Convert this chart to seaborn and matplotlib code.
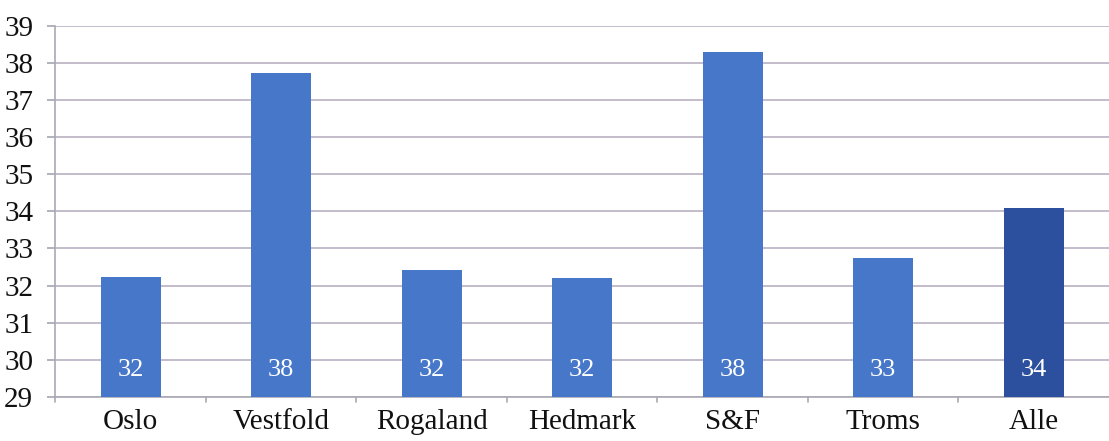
import numpy as np
import pandas as pd
import seaborn as sns
import matplotlib.pyplot as plt

regions = ['Oslo', 'Vestfold', 'Rogaland', 'Hedmark', 'S&F', 'Troms', 'Alle']
values = [32.24, 37.73, 32.42, 32.2, 38.28, 32.75, 34.08]
labels = ['32', '38', '32', '32', '38', '33', '34']

df = pd.DataFrame({'region': regions, 'value': values})

sns.set_theme(style='white')
plt.rcParams['font.family'] = ['Liberation Serif', 'DejaVu Serif']

fig = plt.figure(figsize=(11.09, 4.41), dpi=100)
ax = fig.add_axes([0.05, 0.1, 0.95, 0.842])

palette = ['#4677c9'] * 6 + ['#2c4f9e']
sns.barplot(data=df, x='region', y='value', hue='region', palette=palette,
            saturation=1, width=0.4, linewidth=0, legend=False, ax=ax, zorder=3)

ax.set_ylim(29, 39)
ax.set_xlim(-0.5, 6.5)
ax.set_yticks(range(29, 40))
ax.yaxis.grid(True, color='#b9b1c2', linewidth=1.2, zorder=0)
ax.set_axisbelow(True)

for s in ['top', 'right']:
    ax.spines[s].set_visible(False)
ax.spines['left'].set_color('#a9a9b3')
ax.spines['bottom'].set_color('#a9a9b3')
ax.spines['left'].set_linewidth(1.2)
ax.spines['bottom'].set_linewidth(1.2)

ax.set_xlabel('')
ax.set_ylabel('')
ax.tick_params(axis='y', labelsize=21, length=6, color='#a9a9b3', pad=10, left=True,
               labelcolor='#111111')
ax.tick_params(axis='x', labelsize=21, length=0, pad=9, labelcolor='#111111')

# tick marks between categories on the x axis
for b in np.arange(-0.5, 6.5, 1.0):
    ax.plot([b, b], [29, 28.85], color='#a9a9b3', lw=1.2, clip_on=False)

for i, lab in enumerate(labels):
    ax.text(i, 29.72, lab, ha='center', va='center', color='white', fontsize=19, zorder=4)

fig.savefig('out.png', dpi=100)
